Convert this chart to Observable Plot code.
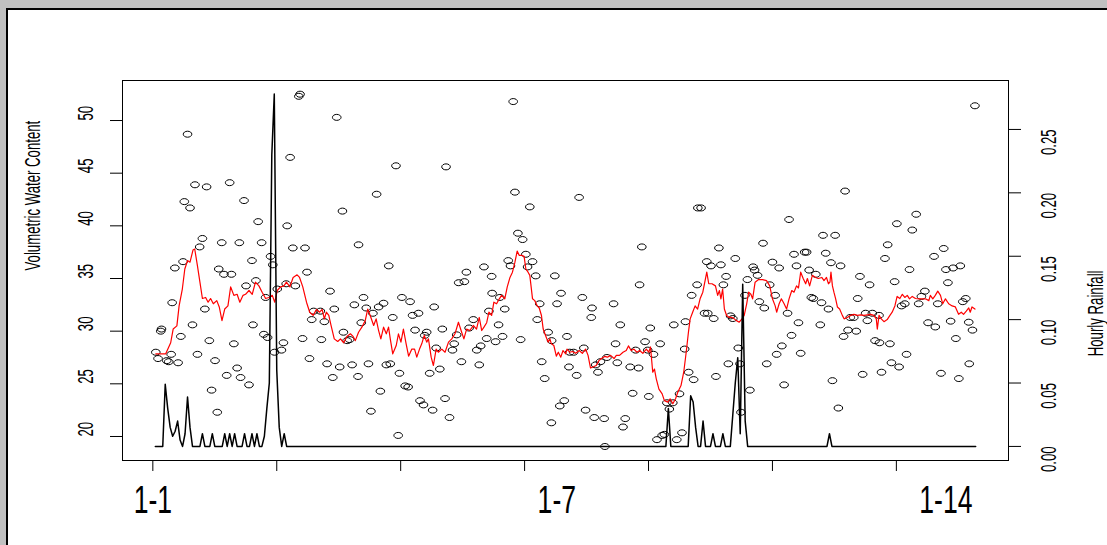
<!DOCTYPE html>
<html><head><meta charset="utf-8">
<script src="https://cdn.jsdelivr.net/npm/d3@7"></script>
<script src="https://cdn.jsdelivr.net/npm/@observablehq/plot@0.6"></script>
<style>
html,body{margin:0;padding:0;}
body{width:1107px;height:545px;overflow:hidden;background:#c0c0c0;position:relative;font-family:"Liberation Sans",Arial,sans-serif;}
#win{position:absolute;left:6px;top:8px;width:1200px;height:600px;background:#fff;border-top:2px solid #000;border-left:2px solid #000;}
.layer{position:absolute;left:0;top:0;}
</style></head><body>
<div id="win"></div>
<div id="c1" class="layer"></div>
<div id="c2" class="layer"></div>
<script>
// ---- data ----
const vwcHour = [
1.2,2.1,3.2,3.5,5.6,6.4,7.4,7.8,8.9,10.2,11.3,12.2,12.7,14,15,16,17,18,18.9,20,21,21.7,22.8,23.7,25.1,26,26.6,27.8,28.7,29.8,
31,31.7,32.7,34,34.9,35.4,36.8,37.6,38.8,40,40.4,41.6,42.5,43.9,44.8,45.5,46.3,47.5,48.4,49.1,50.2,51.9,52.7,53.8,54.2,55.4,56.5,57.5,58.9,59.4,
60.4,61.4,62.2,63.2,64.1,64.9,
67.6,68,69.2,70.3,71.5,72.6,73.2,74.2,75.4,76.5,76.9,78.4,79.4,80.4,81.3,82.8,83.0,84.1,85,86.1,87,88,88.8,90.3,91.1,91.8,93.1,94.2,95.2,95.8,
96.8,98.1,99,99.5,100.5,101.8,103,103.8,104.8,105.8,107.2,107.8,109.2,109.7,110.5,111.7,112.9,113.5,114.3,115.8,116.8,117.9,118.3,119.7,120.9,121.6,122.6,123.4,124.5,125.7,
126.5,127.6,129.3,130.7,131.7,132.3,
133.6,134.7,135.6,136.7,136.9,138.3,139.5,140,141.1,142,143.4,144.3,145.4,146.1,147.3,148.4,149.2,150.5,151.2,152.1,153.2,154.5,155.1,156.1,156.9,158.1,159.5,160.8,160.9,162.2,
163.1,164.2,164.7,166,167.1,167.9,168.2,169.8,171,172,173.3,173.9,174.6,176.9,177.2,178.1,178.7,179.6,180.6,182.1,182.4,183.2,185.9,186.7,187.4,188.6,189.7,190.6,192.6,193.6,
194.8,196,196.4,197.3,198.6,199.7,200.1,200.7,
202,203.4,204.7,205.5,206.4,207.4,208.4,209.8,210.2,211.4,212.5,213.5,214.6,214.9,216.2,217.4,218.2,219.6,219.9,221.2,222.6,223.5,223.9,225.2,226.3,227.2,228.4,229.2,230.2,231.3,
232.2,233.1,234,235,236.2,236.9,237.3,238.9,239.9,240.9,242.2,242.8,244,244.7,246.2,246.7,247.7,248.9,250,251.1,251.7,252.7,253.8,254.7,256.1,256.7,257.7,258.7,259.7,260.5,
261.4,263,263.8,264.8,265.7,266.5,267.5,269.3,269.8,270.4,
271.5,272.6,273.6,274.2,275.3,276.6,277.5,278.7,279.3,280.5,281.4,282.8,283.8,284.4,285.3,286.4,287.6,288.3,289.2,290.3,291.4,293,293.2,294,295.4,296.5,297.4,298,299.3,300.2,
301.1,302.1,303.4,304.1,305.3,306.4,308,309,310.1,311.5,312.8,315.2,315.7,316.7,318,319.1,320,320.8,321.9,322.9,324,325.2,325.8,326.8,328,329.2,329.4,330.7,331.7
];
const vwc = [
28.0,27.4,30.0,30.2,27.2,27.1,27.8,32.7,36.0,27.0,29.5,36.6,42.3,48.7,41.7,30.6,43.9,27.8,38.0,38.8,32.1,43.7,29.1,24.4,27.2,22.3,35.9,38.4,35.4,25.8,
44.1,35.4,28.8,26.5,38.4,25.6,42.4,34.3,24.9,36.7,30.6,34.8,40.4,38.4,29.7,33.2,29.4,37.1,36.3,28.0,34.0,28.2,28.9,34.5,40.0,46.5,37.9,34.3,52.3,52.5,
29.3,37.9,35.6,27.4,31.1,31.9,
31.9,29.2,30.9,26.9,33.8,25.6,32.1,50.3,26.6,41.4,29.9,29.1,29.2,26.8,32.5,25.7,38.2,30.8,33.2,32.2,26.9,22.4,31.7,43.0,32.3,24.3,32.65,26.8,36.2,26.9,
31.3,45.7,20.1,26.0,33.2,24.8,24.7,32.8,31.5,30.1,31.7,23.4,23.0,29.6,29.9,26.0,22.5,32.3,28.4,26.4,30.2,23.6,45.6,21.8,28.2,28.8,29.65,34.6,27.1,34.7,
35.6,30.3,31.1,28.2,26.8,28.6,
36.1,29.3,31.9,35.2,33.6,29.0,30.6,33.2,29.5,32.1,36.7,36.2,51.8,43.2,39.3,29.2,38.7,37.3,36.1,41.8,36.6,35.25,31.1,32.6,27.1,25.5,29.9,21.3,29.1,35.25,
32.6,22.9,33.6,23.4,29.5,26.6,28.0,28.0,25.8,42.7,33.2,28.4,22.5,31.3,32.2,21.8,26.8,26.1,27.1,21.7,19.05,27.5,32.6,28.8,27.0,30.6,20.9,21.7,26.6,24.1,
28.2,26.5,34.4,38.0,29.0,28.2,23.8,30.3,
27.8,19.7,28.8,20.1,20.2,23.2,22.6,23.2,30.6,19.7,24.05,20.35,28.3,30.9,26.1,33.4,25.4,34.4,41.7,41.7,31.7,36.6,31.7,36.2,31.2,25.7,37.9,36.3,34.4,35.2,
26.9,31.45,31.2,36.9,28.4,26.9,22.3,33.4,34.9,24.4,36.1,35.8,35.3,32.8,38.35,32.2,26.9,34.4,36.55,33.4,27.8,36.0,28.6,24.9,31.7,40.6,29.6,37.3,36.2,30.8,
27.9,37.5,37.5,35.8,33.2,33.1,35.4,30.6,32.7,39.1,
37.4,32.1,36.5,25.3,39.1,22.7,36.2,29.5,43.3,30.1,31.3,31.3,30.0,33.1,35.2,25.9,31.7,31.0,34.4,31.7,29.1,31.5,28.9,26.1,36.9,38.2,28.8,27.0,34.7,40.2,
26.6,32.4,32.6,27.8,35.85,39.6,41.1,32.6,33.3,33.8,30.8,37.1,30.4,32.6,26.0,37.85,35.85,34.6,30.95,36.0,29.3,25.5,36.2,32.8,33.1,30.85,26.9,30.1,51.4
];
const smoothHour = [
1.2,5.2,7.2,8.2,9.7,10.6,11.9,12.9,14,15,16.2,16.9,18,19,20,21.3,22.3,23.3,24.4,25.8,26.8,27.9,29,30.3,31.4,32.7,34,35.1,36.4,37.4,
38.8,40.1,41.4,42.8,44.1,45.5,46.8,48.2,49.2,50.2,51.5,52.9,53.9,55.3,56.6,58.2,59.2,60.5,62,63.3,64.7,
66,67.3,68.3,69.2,70,71,71.9,73.2,74.6,75.7,77,78.3,79.7,80.8,81.7,83,84.4,85.7,86.7,87.7,89.1,90.1,91.1,92,93.1,94.2,95.1,95.8,96.8,98.2,
99.1,100.1,101.1,102.2,103.2,104.5,105.6,106.5,107.6,108.5,109.5,110.5,111.2,112.3,113.2,114.3,115.2,116.6,117.9,119.3,120.6,121.9,123.3,124.6,125.5,126.6,127.9,129.3,130.6,131.7,
132.7,133.6,134.7,135.6,136.7,137.6,138.7,139.8,140.7,142,143,144.1,145.1,146.1,147,147.8,148.8,149.8,150.5,151.4,152.1,153.2,154.1,155.1,155.9,156.8,157.5,158.6,159.5,160.2,
160.8,161.8,162.8,163.6,164.6,165.5,166.6,167.1,168.2,169.3,170.6,172,173.3,174.6,175.6,176.6,177.6,178.9,180,181,182.3,183.4,184.7,186.1,187,188.3,189.7,191,191.9,193,
194.1,195.3,196.4,197.7,199.1,200.1,200.8,201.7,202.4,203.1,
204.2,205.5,206.4,207.8,208.7,209.8,210.9,211.8,213.1,214.2,215.2,216.1,216.8,217.8,218.8,219.8,220.8,221.9,222.7,223.5,224.3,225.6,227,227.9,228.6,229.2,229.9,230.6,231.5,232.6,
233.7,234.6,235.5,236.6,237.7,238.6,239.6,240.4,241.3,242,243,244.4,246,247.6,248.9,250,251.1,251.7,252.7,253.6,254.7,255.7,256.7,257.8,258.7,259.7,260.5,261.4,262.4,263.4,
264.1,265,266.1,267.4,268.5,269.9,
270.8,271.8,272.6,273.2,273.6,274.2,274.8,275.5,276.2,277.1,278.2,278.9,280.2,281.5,282.9,284.2,285.6,286.9,288.3,289.6,290.9,291.9,292.3,293,293.9,295,296.3,297.4,298.3,299.4,
300.3,301.4,302.4,303.4,304.4,305.3,306.4,307.7,309.1,310.7,311.7,313.1,313.7,314.7,315.7,316.7,317.8,318.7,319.8,321.1,322.5,323.8,325.1,326.2,327.1,328.2,329.2,329.8,330.5,331.7
];
const smooth = [
27.85,27.85,28.9,30.2,30.5,32.4,34.0,35.9,36.7,36.55,37.7,37.8,36.2,34.65,33.1,33.2,32.75,33.1,32.6,32.9,32.3,31.0,32.1,32.4,34.2,33.4,33.5,32.75,33.4,33.5,
33.86,33.5,34.65,34.3,33.7,33.1,33.2,33.4,32.75,33.86,34.2,34.3,34.65,34.2,35.1,35.35,35.1,34.2,32.75,31.8,31.5,
32.06,31.8,32.06,31.17,31.8,31.49,30.54,29.27,29.02,29.27,28.9,29.5,29.75,29.5,29.1,29.9,30.4,31.0,32.1,31.49,30.54,31.17,30.06,29.27,30.38,29.75,30.38,29.27,27.85,28.64,
29.75,28.96,30.2,28.8,27.63,28.3,28.3,27.53,28.3,28.8,29.6,28.96,29.27,27.53,26.74,28.3,28.0,28.3,28.0,28.96,29.27,29.75,30.85,29.9,29.27,30.2,30.06,30.54,30.2,31.3,
30.06,30.38,30.8,31.8,31.49,32.75,32.6,33.07,33.4,33.07,34.2,35.1,35.6,36.55,37.6,37.2,37.2,37.1,35.9,35.6,35.3,33.07,32.9,32.4,32.2,31.49,30.2,29.5,28.96,29.27,
28.8,28.64,27.63,28.0,27.53,28.16,27.85,28.3,28.0,28.07,27.9,28.16,27.9,28.3,27.7,26.5,26.6,26.74,27.2,27.4,27.6,27.53,27.7,27.4,27.7,27.7,28.0,28.16,28.6,28.16,
28.3,28.0,28.16,27.9,28.3,28.0,28.5,26.1,26.4,25.5,
24.5,24.05,23.4,23.26,23.58,23.1,23.58,24.2,24.84,26.1,28.0,29.9,31.17,31.8,32.4,32.1,33.07,33.7,34.65,35.6,34.5,34.5,34.3,33.4,33.86,33.07,34.0,32.1,31.49,31.3,
31.3,31.17,31.0,30.85,31.17,31.49,32.6,33.7,33.5,33.07,34.65,34.9,34.9,34.8,34.3,33.07,32.4,31.8,32.6,33.07,32.6,32.1,33.07,33.86,33.7,34.3,34.1,35.6,35.0,34.5,
35.0,34.3,35.3,35.1,35.0,35.1,
34.8,35.1,34.5,34.65,35.6,34.3,33.7,33.07,32.3,32.1,31.5,31.17,31.3,31.5,31.6,31.5,31.55,31.5,31.55,31.6,31.5,31.17,30.2,31.5,31.17,30.9,31.1,31.5,31.8,32.4,
33.3,33.1,33.5,33.2,33.4,33.07,33.3,33.1,33.07,33.07,33.07,32.9,33.4,33.07,33.4,33.8,33.4,32.6,33.07,32.6,32.4,32.3,31.6,31.8,31.6,31.9,32.2,31.8,32.3,32.1
];
// hourly rainfall, hours 1..332
const rainfall = [
0,0,0,0,.049,.03,.015,.008,.012,.02,.005,0,.01,.039,.015,0,0,0,0,.01,
0,0,0,.01,0,0,0,0,.01,0,.01,0,.01,0,0,0,.01,0,0,.01,
0,.01,0,0,.008,.03,.05,.23,.278,.06,.015,0,.01,0,0,0,0,0,0,0,
0,0,0,0,0,0,0,0,0,0,0,0,0,0,0,0,0,0,0,0,
0,0,0,0,0,0,0,0,0,0,0,0,0,0,0,0,0,0,0,0,
0,0,0,0,0,0,0,0,0,0,0,0,0,0,0,0,0,0,0,0,
0,0,0,0,0,0,0,0,0,0,0,0,0,0,0,0,0,0,0,0,
0,0,0,0,0,0,0,0,0,0,0,0,0,0,0,0,0,0,0,0,
0,0,0,0,0,0,0,0,0,0,0,0,0,0,0,0,0,0,0,0,
0,0,0,0,0,0,0,0,0,0,0,0,0,0,0,0,0,0,0,0,
0,0,0,0,0,0,0,.03,0,0,0,0,0,0,0,0,.04,.035,.015,0,
0,.02,0,0,0,.01,0,0,0,.01,0,0,0,.025,.05,.07,.01,.128,.02,0,
0,0,0,0,0,0,0,0,0,0,0,0,0,0,0,0,0,0,0,0,
0,0,0,0,0,0,0,0,0,0,0,0,.01,0,0,0,0,0,0,0,
0,0,0,0,0,0,0,0,0,0,0,0,0,0,0,0,0,0,0,0,
0,0,0,0,0,0,0,0,0,0,0,0,0,0,0,0,0,0,0,0,
0,0,0,0,0,0,0,0,0,0,0,0
];
const vwcTicks = [20,25,30,35,40,45,50];
const rainTicks = [0,0.05,0.10,0.15,0.20,0.25];
const rainTickLabels = ["0.00","0.05","0.10","0.15","0.20","0.25"];
const hourTicks = [0,50,100,150,200,250,300];
const dayLabels = ["1-1","1-7","1-14"];
const dayLabelHour = [0,163,320];
const leftTitle = "Volumetric Water Content";
const rightTitle = "Hourly Rainfall";

// ---- layout ----
const W = 1107, H = 545;
const M = {marginLeft:122, marginRight:99, marginTop:80, marginBottom:85};
const xDomain = [-12.24, 345.24];
const FONT = "'Liberation Sans', Arial, sans-serif";

const ellipse = {
  draw(ctx) {
    const rx = 4.3, ry = 3.0, k = 0.5523;
    ctx.moveTo(rx, 0);
    ctx.bezierCurveTo(rx, ry*k, rx*k, ry, 0, ry);
    ctx.bezierCurveTo(-rx*k, ry, -rx, ry*k, -rx, 0);
    ctx.bezierCurveTo(-rx, -ry*k, -rx*k, -ry, 0, -ry);
    ctx.bezierCurveTo(rx*k, -ry, rx, -ry*k, rx, 0);
    ctx.closePath();
  }
};

function condense(svg) {
  d3.select(svg).selectAll("text").each(function() {
    const g = this.closest("[font-size]");
    const fs = g ? parseFloat(g.getAttribute("font-size")) : 0;
    if (fs < 20) return;
    const s = fs >= 30 ? 0.7 : 0.6;
    let t = this.getAttribute("transform") || "";
    const x = this.getAttribute("x"), y = this.getAttribute("y");
    if (x !== null || y !== null) {
      t += ` translate(${+x || 0},${+y || 0})`;
      this.removeAttribute("x"); this.removeAttribute("y");
    }
    this.setAttribute("transform", (t + ` scale(${s},1)`).trim());
  });
}

const p1 = Plot.plot({
  width: W, height: H, ...M,
  style: {background: "transparent", overflow: "visible", fontFamily: FONT, color: "#000"},
  x: {domain: xDomain},
  y: {domain: [17.72, 53.8]},
  marks: [
    Plot.frame({stroke: "#000", strokeWidth: 1}),
    Plot.axisY({ticks: vwcTicks, tickSize: 12, tickFormat: () => "", label: null}),
    Plot.axisX({ticks: hourTicks, tickSize: 11, tickFormat: () => "", label: null}),
    Plot.text(vwcTicks, {y: d => d, text: d => String(d), frameAnchor: "left", dx: -30, rotate: -90, lineAnchor: "bottom", fontSize: 22, fill: "#000"}),
    Plot.text([leftTitle], {frameAnchor: "left", dx: -83, rotate: -90, lineAnchor: "bottom", fontSize: 22, fill: "#000"}),
    Plot.text(dayLabels, {x: dayLabelHour, frameAnchor: "bottom", dy: 52, lineAnchor: "bottom", fontSize: 38, fill: "#000"}),
    Plot.dot(vwc, {x: vwcHour, y: vwc, symbol: ellipse, r: 4, stroke: "#000", strokeWidth: 1, fill: "none"}),
    Plot.line(smooth, {x: smoothHour, y: smooth, stroke: "#ff0000", strokeWidth: 1.2})
  ]
});
condense(p1);
document.getElementById("c1").appendChild(p1);

const p2 = Plot.plot({
  width: W, height: H, ...M,
  style: {background: "transparent", overflow: "visible", fontFamily: FONT, color: "#000"},
  x: {domain: xDomain, axis: null},
  y: {domain: [-0.0111, 0.2886], axis: null},
  marks: [
    Plot.axisY({anchor: "right", ticks: rainTicks, tickSize: 12, tickFormat: () => "", label: null}),
    Plot.text(rainTicks, {y: d => d, text: (d, i) => rainTickLabels[i], frameAnchor: "right", dx: 47, rotate: -90, lineAnchor: "bottom", fontSize: 22, fill: "#000"}),
    Plot.text([rightTitle], {frameAnchor: "right", dx: 94, rotate: -90, lineAnchor: "bottom", fontSize: 22, fill: "#000"}),
    Plot.line(rainfall, {x: (d, i) => i + 1, y: d => d, stroke: "#000", strokeWidth: 1.5})
  ]
});
condense(p2);
document.getElementById("c2").appendChild(p2);
</script>
</body></html>
